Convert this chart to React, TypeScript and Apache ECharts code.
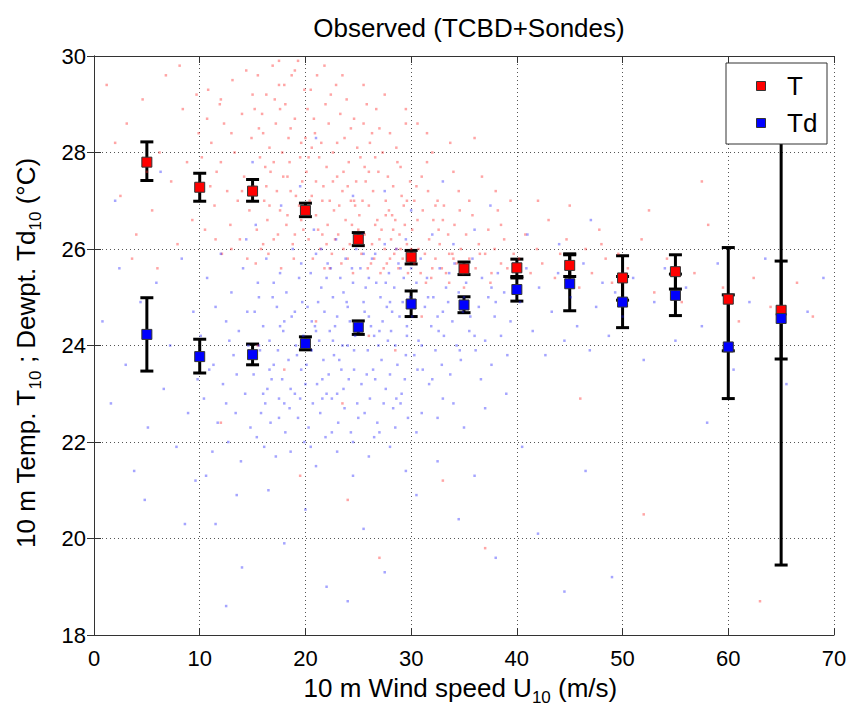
import React, { useEffect, useRef } from "react";
import * as echarts from "echarts";

const FONT = "'Liberation Sans', Arial, Helvetica, sans-serif";

const windSpeeds = [5, 10, 15, 20, 25, 30, 35, 40, 45, 50, 55, 60, 65];
const tMean = [27.8, 27.28, 27.2, 26.8, 26.2, 25.83, 25.59, 25.61, 25.66, 25.4, 25.53, 24.96, 24.73];
const tLow = [27.42, 26.99, 26.99, 26.67, 26.07, 25.69, 25.47, 25.43, 25.43, 24.94, 25.17, 23.89, 23.72];
const tHigh = [28.22, 27.57, 27.44, 26.95, 26.34, 25.97, 25.73, 25.79, 25.9, 25.86, 25.88, 26.03, 25.75];
const tdMean = [24.23, 23.77, 23.81, 24.04, 24.38, 24.86, 24.84, 25.16, 25.28, 24.9, 25.04, 23.97, 24.56];
const tdLow = [23.47, 23.43, 23.6, 23.91, 24.23, 24.6, 24.68, 24.92, 24.72, 24.37, 24.62, 22.9, 19.45];
const tdHigh = [24.99, 24.13, 24.03, 24.18, 24.51, 25.13, 25.01, 25.4, 25.88, 25.43, 25.48, 25.05, 29.67];

const xTicks = { min: 0, max: 70, interval: 10 };
const yTicks = { min: 18, max: 30, interval: 2 };

const tCloud: number[][] = [
  [1.2,29.4],[2.5,27.1],[3.1,28.6],[4.0,26.3],[4.6,29.1],[5.5,26.8],[6.2,28.0],[6.8,29.6],[7.3,27.4],[7.9,26.1],[8.4,28.9],[8.8,27.8],[9.3,26.6],[9.7,29.2],[3.6,25.8],[6.0,25.6],[2.0,28.2],[8.1,29.8],[5.0,27.6],[9.9,28.4],
  [10.2,27.9],[10.5,26.4],[10.8,29.3],[11.1,28.2],[11.4,26.9],[11.6,27.6],[11.9,29.0],[12.1,25.9],[12.3,28.6],[12.6,27.2],[12.9,26.5],[13.1,29.5],[13.3,28.0],[13.6,27.0],[13.8,26.2],[14.0,28.8],[14.2,27.5],[14.4,29.7],[14.7,26.8],[14.9,28.3],[12.0,27.8],[13.0,26.0],[11.0,27.3],[14.5,25.8],[10.7,28.7],
  [15.1,27.3],[15.2,28.9],[15.4,26.4],[15.5,29.6],[15.7,27.9],[15.8,26.0],[16.0,28.4],[16.1,27.0],[16.3,29.2],[16.4,26.6],[16.6,28.1],[16.7,27.6],[16.9,29.8],[17.0,26.2],[17.2,28.6],[17.3,27.2],[17.5,29.4],[17.6,26.8],[17.8,28.0],[17.9,27.5],[18.1,29.0],[18.2,26.5],[18.4,28.3],[18.5,27.8],[18.7,29.6],[18.8,26.1],[19.0,28.7],[19.1,27.1],[19.3,29.9],[19.4,26.9],[19.6,28.2],[19.7,27.4],[19.9,29.3],[15.3,25.7],[16.5,25.9],[17.7,25.6],[18.9,25.8],[15.9,28.8],[17.1,29.1],[18.3,26.7],[19.5,27.9],[16.2,27.7],[17.4,26.3],[18.6,28.5],[19.8,26.4],
  [20.1,27.6],[20.2,28.9],[20.3,26.2],[20.5,29.3],[20.6,27.1],[20.7,25.8],[20.9,28.4],[21.0,26.7],[21.1,29.6],[21.3,27.9],[21.4,26.0],[21.5,28.2],[21.7,27.3],[21.8,25.6],[21.9,29.0],[22.1,26.5],[22.2,28.6],[22.3,27.0],[22.5,25.9],[22.6,28.0],[22.7,26.8],[22.9,29.4],[23.0,27.5],[23.1,26.3],[23.3,28.8],[23.4,25.7],[23.5,27.2],[23.7,28.3],[23.8,26.6],[23.9,29.1],[24.1,27.8],[24.2,26.1],[24.3,28.5],[24.5,25.5],[24.6,27.0],[24.7,26.9],[24.9,28.1],[20.4,27.0],[21.2,26.4],[22.0,27.7],[22.8,26.2],[23.6,27.6],[24.4,26.5],[20.8,28.7],[21.6,27.0],[22.4,29.2],[23.2,26.9],[24.0,25.8],[24.8,27.4],
  [25.1,26.7],[25.2,27.9],[25.3,25.9],[25.5,28.6],[25.6,26.3],[25.7,27.4],[25.9,25.6],[26.0,26.9],[26.1,28.2],[26.3,26.1],[26.4,27.2],[26.5,25.8],[26.7,28.9],[26.8,26.6],[26.9,27.6],[27.1,25.5],[27.2,26.4],[27.3,28.0],[27.5,26.0],[27.6,27.0],[27.7,25.7],[27.9,26.8],[28.0,28.4],[28.1,26.2],[28.3,27.3],[28.4,25.9],[28.5,26.6],[28.7,27.8],[28.8,25.6],[28.9,26.3],[29.1,27.1],[29.2,25.8],[29.3,26.9],[29.5,28.6],[29.6,26.1],[29.7,25.5],[29.9,27.4],[25.4,27.0],[26.2,25.7],[27.0,26.2],[27.8,27.5],[28.6,26.0],[29.4,26.5],[25.8,29.0],[26.6,26.5],[27.4,25.6],[28.2,26.7],[29.0,26.0],
  [30.1,26.4],[30.3,25.7],[30.5,27.3],[30.7,26.0],[30.9,25.5],[31.1,26.8],[31.3,25.9],[31.5,27.8],[31.7,26.2],[31.9,25.4],[32.1,26.6],[32.3,25.8],[32.5,27.0],[32.7,26.1],[32.9,25.6],[33.1,26.9],[33.3,25.5],[33.5,26.3],[33.7,28.2],[33.9,25.9],[34.1,26.5],[34.3,25.7],[34.5,27.2],[34.7,26.0],[34.9,25.5],[35.2,26.3],[35.5,25.8],[35.8,26.7],[36.1,25.6],[36.4,26.1],[36.7,27.5],[37.0,25.9],[37.3,26.4],[37.6,25.5],[37.9,26.0],[38.2,26.8],[38.5,25.7],[38.8,26.2],[39.1,25.6],[39.4,27.0],[39.7,25.9],[30.6,28.6],[32.0,28.0],[34.0,27.6],[36.0,28.3],[38.0,27.2],[31.4,25.3],[33.6,25.3],[35.0,25.2],[37.5,25.3],
  [40.2,25.8],[40.8,26.3],[41.3,25.5],[41.9,26.0],[42.4,25.7],[43.0,26.6],[43.6,25.4],[44.1,25.9],[44.7,26.2],[45.3,25.6],[45.9,25.2],[46.5,26.0],[47.1,25.5],[47.8,26.4],[48.4,25.8],[49.0,25.3],[49.6,25.9],[42.0,27.0],[45.0,26.9],[48.0,26.1],
  [50.5,25.6],[51.8,26.2],[53.0,25.1],[54.2,25.8],[55.6,24.9],[56.8,25.5],[58.1,26.5],[59.5,25.2],[61.0,24.5],[62.4,25.4],[64.0,24.8],[66.5,25.3],[68.0,24.6],[57.5,27.4],[52.5,26.8],
  [15.5,24.0],[18.0,23.5],[21.0,24.5],[23.5,22.8],[26.0,24.2],[28.5,23.9],[31.0,24.6],[24.0,20.8],[27.0,19.6],[33.0,21.2],[37.0,19.8],[46.0,22.9],[52.0,20.5],[63.0,18.7],[12.0,22.4],[19.5,21.3],
  [15.6,28.5],[16.6,26.9],[17.6,28.9],[18.6,27.2],[19.6,26.6],[20.6,28.1],[21.6,26.3],[22.6,27.4],[23.6,26.0],[24.6,28.7],[25.6,27.7],[26.6,27.9],[27.6,26.7],[28.6,28.1],[29.6,27.0],[30.6,26.6],[31.6,27.2],[32.6,26.4],[33.6,25.9],[34.6,26.8],
  [15.0,29.2],[16.0,26.1],[17.0,27.8],[18.0,29.4],[19.0,26.3],[20.0,28.3],[21.0,27.4],[22.0,26.1],[23.0,28.2],[24.0,27.3],[25.0,26.4],[26.0,27.6],[27.0,28.5],[28.0,25.8],[29.0,27.7],[30.0,26.0],[31.0,27.5],[32.0,25.6],[33.0,26.6],[34.0,25.8],
  [35.5,27.0],[36.5,25.9],[38.5,26.5],[16.3,27.3],[18.3,27.5],[20.3,27.9],[22.3,25.6],[24.3,27.0],[26.3,28.4],[28.3,26.4],[30.3,27.0],[32.3,26.9],[14.0,27.2],[13.0,28.4],[12.0,29.1],[11.5,26.2],
  [21.8,29.8],[19.0,29.7],[17.5,29.9],[23.5,29.6],[25.5,29.4],[27.5,29.2],[29.5,28.9],[31.5,28.4]
];

const tdCloud: number[][] = [
  [0.8,24.5],[1.6,22.8],[2.4,25.6],[3.0,23.6],[3.8,21.4],[4.4,24.9],[5.1,22.3],[5.9,25.3],[6.6,23.1],[7.2,24.0],[7.8,21.9],[8.3,25.8],[8.9,22.6],[9.4,24.7],[9.8,23.3],[2.0,27.0],[6.3,27.6],[4.8,20.8],[8.6,20.3],[9.6,21.2],
  [10.1,24.2],[10.4,22.9],[10.7,25.4],[10.9,23.5],[11.2,21.8],[11.5,24.8],[11.7,22.4],[12.0,25.9],[12.2,23.2],[12.5,24.5],[12.7,22.0],[13.0,25.1],[13.2,23.8],[13.4,22.6],[13.7,24.3],[13.9,21.6],[14.1,25.6],[14.3,23.0],[14.6,24.0],[14.8,22.3],[11.3,23.6],[12.8,24.1],[14.4,26.2],[10.6,21.3],[13.5,20.9],
  [15.1,23.4],[15.2,24.7],[15.4,22.1],[15.5,25.3],[15.7,23.9],[15.8,22.6],[16.0,24.4],[16.1,21.9],[16.3,25.8],[16.4,23.1],[16.6,24.1],[16.7,22.4],[16.9,25.0],[17.0,23.6],[17.2,21.7],[17.3,24.8],[17.5,22.9],[17.6,25.5],[17.8,23.3],[17.9,24.3],[18.1,22.2],[18.2,25.1],[18.4,23.7],[18.5,22.7],[18.7,24.6],[18.8,26.0],[19.0,23.0],[19.1,24.0],[19.3,22.5],[19.4,25.4],[19.6,23.5],[19.7,24.9],[19.9,22.0],[15.6,24.0],[16.8,23.3],[18.0,24.5],[19.2,23.8],[16.2,22.8],[17.4,23.9],[18.6,21.8],[19.8,24.2],[15.3,26.5],[17.7,26.9],[19.5,27.3],
  [20.1,23.6],[20.2,24.8],[20.3,22.3],[20.5,25.5],[20.6,23.9],[20.7,22.8],[20.9,24.4],[21.0,25.9],[21.1,23.2],[21.3,24.1],[21.4,22.6],[21.5,25.2],[21.7,23.7],[21.8,24.7],[21.9,22.1],[22.1,25.7],[22.2,23.4],[22.3,24.3],[22.5,22.9],[22.6,25.0],[22.7,23.8],[22.9,26.2],[23.0,24.6],[23.1,22.4],[23.3,25.4],[23.4,23.5],[23.5,24.0],[23.7,22.7],[23.8,25.8],[23.9,24.9],[24.1,23.3],[24.2,24.5],[24.3,22.2],[24.5,25.3],[24.6,23.9],[24.7,24.2],[24.9,22.8],[20.4,24.0],[21.2,24.9],[22.0,23.0],[22.8,24.4],[23.6,23.1],[24.4,25.6],[20.8,26.4],[21.6,23.3],[22.4,25.6],[23.2,23.7],[24.0,24.8],[24.8,26.0],[21.0,21.5],[23.0,21.8],[24.5,21.3],
  [25.1,24.3],[25.2,25.6],[25.3,23.2],[25.5,24.9],[25.6,22.6],[25.7,25.2],[25.9,23.9],[26.0,24.6],[26.1,22.9],[26.3,25.8],[26.4,23.5],[26.5,24.2],[26.7,25.3],[26.8,22.4],[26.9,24.0],[27.1,25.0],[27.2,23.7],[27.3,24.5],[27.5,26.1],[27.6,23.1],[27.7,24.8],[27.9,25.5],[28.0,23.4],[28.1,24.3],[28.3,22.7],[28.4,25.2],[28.5,24.0],[28.7,23.6],[28.8,25.7],[28.9,24.6],[29.1,23.0],[29.2,24.9],[29.3,25.4],[29.5,23.8],[29.6,24.4],[29.7,22.5],[29.9,25.0],[25.4,26.3],[26.2,24.4],[27.0,22.2],[27.8,24.1],[28.6,26.0],[29.4,23.3],[25.8,23.4],[26.6,25.9],[27.4,22.8],[28.2,24.7],[29.0,25.6],[26.0,21.7],[28.0,21.9],[29.5,21.4],
  [30.1,24.6],[30.3,23.8],[30.5,25.3],[30.7,24.1],[30.9,25.8],[31.1,23.5],[31.3,24.8],[31.5,25.4],[31.7,23.2],[31.9,24.4],[32.1,25.0],[32.3,23.9],[32.5,24.6],[32.7,25.6],[32.9,23.6],[33.1,24.2],[33.3,25.2],[33.5,24.9],[33.7,23.4],[33.9,24.5],[34.1,25.7],[34.3,24.0],[34.5,25.1],[34.7,23.7],[34.9,24.7],[35.2,25.3],[35.5,24.3],[35.8,25.8],[36.1,23.9],[36.4,24.8],[36.7,25.4],[37.0,24.1],[37.3,25.0],[37.6,23.6],[37.9,24.6],[38.2,25.5],[38.5,24.2],[38.8,25.1],[39.1,23.8],[39.4,24.5],[39.7,25.7],[31.0,22.6],[33.0,22.9],[35.0,22.3],[37.0,22.7],[39.0,23.0],[32.0,26.3],[34.0,26.1],[36.0,26.4],
  [40.3,24.9],[40.9,25.6],[41.5,24.3],[42.1,25.2],[42.7,23.8],[43.3,24.7],[43.9,25.5],[44.5,24.1],[45.1,25.0],[45.7,24.4],[46.3,25.7],[46.9,23.9],[47.5,24.8],[48.1,25.3],[48.7,24.2],[49.3,25.1],[50.0,24.6],[51.0,25.4],[52.0,23.7],[53.0,24.9],[54.0,25.6],[55.0,24.1],[56.0,25.2],[57.5,24.4],[59.0,25.7],[60.5,23.5],[62.0,24.9],[63.5,25.8],[65.5,23.2],[67.5,24.7],[69.0,25.4],[41.0,26.3],[44.0,26.1],[47.0,26.6],
  [11.5,20.3],[14.0,19.4],[16.5,21.0],[18.0,19.9],[20.0,20.6],[22.0,19.0],[24.0,18.7],[25.5,20.2],[27.5,19.3],[30.5,20.9],[32.5,21.6],[34.5,20.4],[36.0,21.3],[38.0,19.6],[40.5,21.9],[42.0,20.1],[44.5,18.9],[46.5,21.4],[49.0,19.2],[58.0,22.4],[12.5,18.6],
  [15.0,27.8],[21.0,28.3],[24.5,27.1],[27.5,27.2],[30.0,26.8],[33.0,27.4],[37.5,26.9],
  [15.6,25.0],[16.6,23.5],[17.6,24.4],[18.6,23.1],[19.6,25.7],[20.6,24.5],[21.6,22.9],[22.6,24.1],[23.6,25.1],[24.6,23.5],[25.6,24.7],[26.6,23.3],[27.6,25.3],[28.6,22.9],[29.6,24.2],[30.6,23.5],[31.6,25.0],[32.6,24.3],[33.6,25.5],[34.6,23.9],[35.6,24.6],[36.6,23.3],[37.6,25.2],
  [16.0,23.0],[17.0,25.3],[18.0,22.8],[19.0,24.7],[20.0,23.2],[21.0,24.3],[22.0,25.4],[23.0,23.0],[24.0,24.0],[25.0,22.5],[26.0,25.4],[27.0,24.3],[28.0,24.9],[29.0,22.8],[30.0,25.6],[31.0,24.0],[32.0,23.3],[33.0,24.7],[34.0,22.8],[35.0,25.0],[36.0,24.2],[38.0,24.9],
  [14.5,24.7],[13.5,23.4],[12.5,22.8],[20.5,21.9],[22.5,22.2],[24.5,22.0],[26.5,22.1],[28.5,22.3],[30.5,22.2],[32.5,22.5],[19.5,22.9],[17.5,22.5],[21.5,26.0],[25.5,25.9],[29.5,26.2]
];

const legendNames = ["T", "Td"];

function errorBarRender(params: any, api: any) {
  const x = api.value(0);
  const lo = api.coord([x, api.value(1)]);
  const hi = api.coord([x, api.value(2)]);
  const w = 6.5;
  const st = { stroke: "#000", lineWidth: 3 };
  return {
    type: "group",
    children: [
      { type: "line", shape: { x1: lo[0], y1: lo[1], x2: hi[0], y2: hi[1] }, style: st },
      { type: "line", shape: { x1: lo[0] - w, y1: lo[1], x2: lo[0] + w, y2: lo[1] }, style: st },
      { type: "line", shape: { x1: hi[0] - w, y1: hi[1], x2: hi[0] + w, y2: hi[1] }, style: st },
    ],
  };
}

export default function App() {
  const ref = useRef<HTMLDivElement>(null);
  useEffect(() => {
    if (!ref.current) return;
    const chart = echarts.init(ref.current, null, { renderer: "svg" });
    const axisCommon = {
      axisLine: { show: true, lineStyle: { color: "#333", width: 1 } },
      axisTick: { show: true, inside: true, length: 7, lineStyle: { color: "#333" } },
    };
    const richName = {
      a: { fontSize: 26, fontFamily: FONT, color: "#000", lineHeight: 26 },
      s: { fontSize: 17, fontFamily: FONT, color: "#000", lineHeight: 17, verticalAlign: "bottom" as const },
      sp: { fontSize: 26, lineHeight: 36 },
    };
    const tErr = windSpeeds.map((x, i) => [x, tLow[i], tHigh[i]]);
    const tdErr = windSpeeds.map((x, i) => [x, tdLow[i], tdHigh[i]]);
    const legendZ = { z: 100, zlevel: 1 };
    chart.setOption({
      animation: false,
      backgroundColor: "#fff",
      title: {
        text: "Observed (TCBD+Sondes)",
        left: 464,
        top: 10,
        textAlign: "center",
        textStyle: { fontSize: 26, fontWeight: "normal", color: "#000", fontFamily: FONT },
      },
      grid: { left: 94, right: 16, top: 56, bottom: 71, containLabel: false },
      xAxis: [
        {
          type: "value",
          position: "bottom",
          ...xTicks,
          ...axisCommon,
          axisLabel: { fontSize: 22, color: "#000", fontFamily: FONT, margin: 12 },
          splitLine: { show: true, lineStyle: { type: [1, 3], color: "#555", width: 1 } },
          name: "{a|10 m Wind speed U}{s|10}{a| (m/s)}{sp| }",
          nameLocation: "middle",
          nameGap: 35,
          nameTextStyle: { rich: richName },
        },
        {
          type: "value",
          position: "top",
          ...xTicks,
          ...axisCommon,
          axisLabel: { show: false },
          splitLine: { show: false },
        },
      ],
      yAxis: [
        {
          type: "value",
          position: "left",
          ...yTicks,
          ...axisCommon,
          axisLabel: { fontSize: 22, color: "#000", fontFamily: FONT, margin: 8 },
          splitLine: { show: true, lineStyle: { type: [1, 3], color: "#555", width: 1 } },
          name: "{a|10 m Temp. T}{s|10}{a| ; Dewpt. Td}{s|10}{a| (°C)}{sp| }",
          nameLocation: "middle",
          nameRotate: 90,
          nameGap: 50,
          nameTextStyle: { rich: richName, padding: [0, 8, 0, 0] },
        },
        {
          type: "value",
          position: "right",
          ...yTicks,
          ...axisCommon,
          axisLabel: { show: false },
          splitLine: { show: false },
        },
      ],
      series: [
        {
          type: "scatter",
          name: "T cloud",
          data: tCloud,
          symbol: "rect",
          symbolSize: 2.5,
          itemStyle: { color: "rgba(255,30,30,0.5)" },
          silent: true,
        },
        {
          type: "scatter",
          name: "Td cloud",
          data: tdCloud,
          symbol: "rect",
          symbolSize: 2.5,
          itemStyle: { color: "rgba(30,30,255,0.5)" },
          silent: true,
        },
        {
          type: "custom",
          name: "T error",
          data: tErr,
          renderItem: errorBarRender,
          encode: { x: 0, y: [1, 2] },
        },
        {
          type: "scatter",
          name: legendNames[0],
          data: windSpeeds.map((x, i) => [x, tMean[i]]),
          symbol: "rect",
          symbolSize: 10,
          itemStyle: { color: "#ff0000", borderColor: "#333", borderWidth: 1, opacity: 1 },
        },
        {
          type: "custom",
          name: "Td error",
          data: tdErr,
          renderItem: errorBarRender,
          encode: { x: 0, y: [1, 2] },
        },
        {
          type: "scatter",
          name: legendNames[1],
          data: windSpeeds.map((x, i) => [x, tdMean[i]]),
          symbol: "rect",
          symbolSize: 10,
          itemStyle: { color: "#0000ff", borderColor: "#333", borderWidth: 1, opacity: 1 },
        },
      ],
      graphic: [
        { type: "rect", ...legendZ, shape: { x: 726, y: 63, width: 101, height: 81 }, style: { fill: "#fff", stroke: "#333", lineWidth: 1 } },
        { type: "rect", ...legendZ, shape: { x: 756.5, y: 81.5, width: 9, height: 9 }, style: { fill: "#ff0000", stroke: "#333", lineWidth: 1 } },
        { type: "rect", ...legendZ, shape: { x: 756.5, y: 118.5, width: 9, height: 9 }, style: { fill: "#0000ff", stroke: "#333", lineWidth: 1 } },
        { type: "text", ...legendZ, x: 787, y: 86, style: { text: legendNames[0], fontSize: 26, fontFamily: FONT, fill: "#000", verticalAlign: "middle" } },
        { type: "text", ...legendZ, x: 787, y: 123, style: { text: legendNames[1], fontSize: 26, fontFamily: FONT, fill: "#000", verticalAlign: "middle" } },
      ],
    });
    return () => chart.dispose();
  }, []);
  return <div ref={ref} style={{ width: 850, height: 711, position: "absolute", left: 0, top: 0 }} />;
}
